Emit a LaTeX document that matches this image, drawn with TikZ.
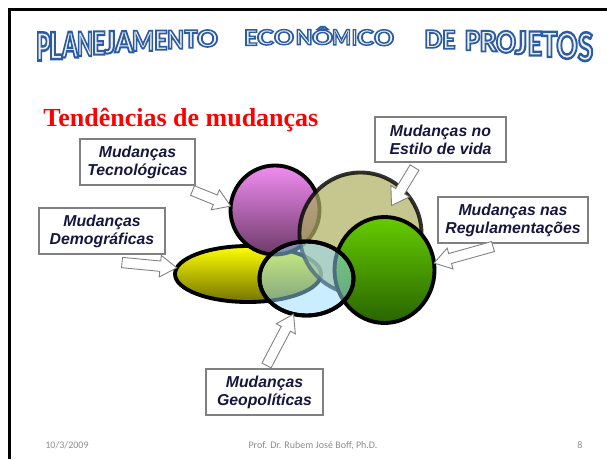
\documentclass[tikz,border=0pt]{standalone}
\usepackage{fontspec}
\usepackage{graphicx}
\usetikzlibrary{calc,shapes.geometric,shapes.arrows}
\newfontfamily\titlefont{Carlito}
\newfontfamily\boxfont{Liberation Sans}
\newfontfamily\headfont{Liberation Serif}
\pgfmathsetmacro{\pixlen}{0.02cm}
\definecolor{titleivory}{RGB}{242,240,228}
\definecolor{boxgray}{RGB}{128,128,128}
\definecolor{labelnavy}{RGB}{22,22,62}
\definecolor{footgray}{RGB}{140,140,140}
\tikzset{
  change box/.style={draw=boxgray, fill=white, line width=0.6pt, align=center,
    text=labelnavy, minimum height=46*\pixlen, inner sep=1pt,
    font=\boxfont\bfseries\itshape\fontsize{9}{10.2}\selectfont},
  block arrow/.style={single arrow, draw=boxgray, fill=white, line width=0.5pt,
    inner sep=2.7pt, outer sep=0pt, single arrow head extend=3.2pt,
    single arrow tip angle=66},
  trend/.style={line width=2.2pt, draw=black, inner sep=0pt, outer sep=0pt},
  title letter/.style={inner sep=0pt, anchor=south, text=titleivory, font=\titlefont\bfseries},
  footer text/.style={inner sep=0pt, text=footgray, font=\titlefont\fontsize{5.7}{7}\selectfont}
}
% outlined title glyphs: stroke blue, fill with the text colour
\newcommand{\outlined}[1]{%
  \special{pdf:literal direct 2 Tr 0.6 w 0.17 0.36 0.66 RG}#1%
  \special{pdf:literal direct 0 Tr}}
% block arrow from a tail point to a tip point
\newcommand{\blockarrow}[3]{%
  \path let \p1=($(#3)-(#2)$) in
    node[block arrow, anchor=tail, minimum height={veclen(\x1,\y1)},
      rotate={atan2(\y1,\x1)}] (#1) at (#2) {};}

\begin{document}
\begin{tikzpicture}[x=0.02cm, y=-0.02cm]
    \useasboundingbox (0,0) rectangle (607,459);
    % slide frame
    \draw[line width=1.7pt] (9.5,459) -- (9.5,9.5) -- (607,9.5);
    % title, letter by letter
    \foreach \ch/\cx/\cw/\up [count=\k] in {P/43.5/13/0, L/56/12/0, A/70/15/0,
        N/85/14/0, E/99/12/0, J/110/10/0, A/124/17/0, M/143/20/0, E/161/12/0,
        N/175.5/15/0, T/191/12/0, O/207.5/19/0, E/251/12/0, C/265.5/15/0,
        O/284/18/0, N/304/15/0, Ô/322.5/19/3, M/341.5/17/0, I/354.5/5/0,
        C/365.5/15/0, O/384/18/0, D/433.5/16/0, E/449/12/0, P/472.5/14/0,
        R/488.5/16/0, O/506/18/0, J/521/11/0, E/535/13/0, T/549.5/14/0,
        O/567/19/0, S/585.5/14/0} {
        \pgfmathsetmacro{\dev}{((\cx-312)/278)^2}
        \pgfmathsetlengthmacro{\lw}{1.1*\cw*\pixlen}
        \pgfmathsetlengthmacro{\lh}{(15+14*\dev+\up)*\pixlen}
        \node[title letter] (title_\k) at (\cx, 45+17*\dev)
            {\resizebox{\lw}{\lh}{\outlined{\ch}}};
    }
    \node[anchor=base west, inner sep=0pt, text=red,
        font=\headfont\bfseries\fontsize{14.8}{18}\selectfont] (heading) at (43,127)
        {Tendências de mudanças};
    % trends
    \node[trend, ellipse, minimum width=146*\pixlen, minimum height=56*\pixlen,
        top color=yellow, bottom color={rgb,255:red,115;green,115;blue,0}] (ell_dem) at (248,274) {};
    \node[trend, circle, minimum size=89*\pixlen,
        top color={rgb,255:red,242;green,140;blue,242},
        bottom color={rgb,255:red,108;green,58;blue,104}] (circ_tec) at (275,210) {};
    \node[trend, circle, minimum size=122*\pixlen, draw opacity=0.8, fill opacity=0.72,
        fill={rgb,255:red,176;green,176;blue,100}] (circ_est) at (360.5,233.5) {};
    \node[trend, ellipse, minimum width=100*\pixlen, minimum height=106*\pixlen,
        top color={rgb,255:red,102;green,204;blue,0},
        bottom color={rgb,255:red,40;green,100;blue,0}] (circ_reg) at (384.5,270) {};
    \node[trend, ellipse, minimum width=94*\pixlen, minimum height=74*\pixlen,
        fill={rgb,255:red,150;green,220;blue,255}, fill opacity=0.5] (ell_geo) at (306.5,278.5) {};
    \node[trend, ellipse, minimum width=94*\pixlen, minimum height=74*\pixlen] (ell_geo_rim) at (ell_geo) {};
    % labels
    \node[change box, minimum width=115*\pixlen] (box_tec) at (137.5,162) {Mudanças\\Tecnológicas};
    \node[change box, minimum width=126*\pixlen] (box_dem) at (102,231) {Mudanças\\Demográficas};
    \node[change box, minimum width=131*\pixlen, minimum height=45*\pixlen] (box_est) at (440.5,139.5) {Mudanças no\\Estilo de vida};
    \node[change box, minimum width=150*\pixlen] (box_reg) at (513,220) {Mudanças nas\\Regulamentações};
    \node[change box, minimum width=117*\pixlen] (box_geo) at (264.5,392) {Mudanças\\Geopolíticas};
    % arrows
    \coordinate (tail_tec) at ($(box_tec.south east)+(-3,5)$);
    \coordinate (tail_dem) at ($(box_dem.south)+(20,8)$);
    \coordinate (tail_est) at ($(box_est.south)+(-26,5)$);
    \coordinate (tip_est) at ($(circ_est.center)+(31,-28)$);
    \coordinate (tail_reg) at ($(box_reg.south)+(-20,3)$);
    \coordinate (tail_geo) at ($(box_geo.north)+(2,-3)$);
    \blockarrow{arr_tec}{tail_tec}{circ_tec.175}
    \blockarrow{arr_dem}{tail_dem}{ell_dem.175}
    \blockarrow{arr_est}{tail_est}{tip_est}
    \blockarrow{arr_reg}{tail_reg}{circ_reg.8}
    \blockarrow{arr_geo}{tail_geo}{ell_geo.250}
    % footer
    \node[footer text, anchor=base west] (foot_date) at (45,448) {10/3/2009};
    \node[footer text, anchor=base] (foot_author) at (313,448) {Prof. Dr. Rubem José Boff, Ph.D.};
    \node[footer text, anchor=base] (foot_page) at (580,448) {8};
\end{tikzpicture}
\end{document}
